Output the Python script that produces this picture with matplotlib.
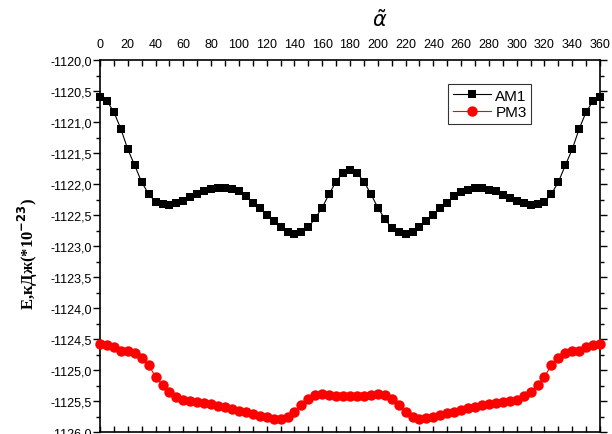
import matplotlib
matplotlib.use("Agg")
import matplotlib.pyplot as plt
from matplotlib.ticker import MultipleLocator, FuncFormatter

# angle, degrees
angles = list(range(0, 361, 5))

am1 = [-1120.60, -1120.66, -1120.84, -1121.11, -1121.44, -1121.70, -1121.97, -1122.16,
       -1122.29, -1122.33, -1122.34, -1122.31, -1122.27, -1122.21, -1122.16, -1122.11,
       -1122.08, -1122.06, -1122.06, -1122.08, -1122.12, -1122.19, -1122.30, -1122.39,
       -1122.50, -1122.60, -1122.70, -1122.77, -1122.80, -1122.77, -1122.70, -1122.55,
       -1122.38, -1122.16, -1121.96, -1121.82, -1121.77, -1121.82, -1121.96, -1122.16,
       -1122.38, -1122.56, -1122.71, -1122.77, -1122.81, -1122.77, -1122.70, -1122.60,
       -1122.50, -1122.39, -1122.30, -1122.20, -1122.13, -1122.09, -1122.07, -1122.07,
       -1122.09, -1122.12, -1122.18, -1122.22, -1122.27, -1122.31, -1122.34, -1122.33,
       -1122.29, -1122.16, -1121.97, -1121.70, -1121.44, -1121.11, -1120.84, -1120.66,
       -1120.60]

pm3 = [-1124.58, -1124.59, -1124.63, -1124.69, -1124.70, -1124.73, -1124.80, -1124.92,
       -1125.11, -1125.24, -1125.36, -1125.43, -1125.48, -1125.50, -1125.52, -1125.53,
       -1125.55, -1125.58, -1125.60, -1125.63, -1125.66, -1125.68, -1125.71, -1125.74,
       -1125.76, -1125.79, -1125.79, -1125.76, -1125.68, -1125.56, -1125.47, -1125.40,
       -1125.38, -1125.40, -1125.42, -1125.42, -1125.42, -1125.42, -1125.42, -1125.40,
       -1125.38, -1125.40, -1125.47, -1125.56, -1125.68, -1125.76, -1125.79, -1125.78,
       -1125.75, -1125.72, -1125.69, -1125.67, -1125.64, -1125.62, -1125.59, -1125.56,
       -1125.55, -1125.53, -1125.52, -1125.50, -1125.48, -1125.42, -1125.36, -1125.24,
       -1125.11, -1124.92, -1124.80, -1124.73, -1124.70, -1124.69, -1124.63, -1124.59,
       -1124.58]

plt.rcParams['font.family'] = ['Liberation Sans', 'DejaVu Sans']

fig = plt.figure(figsize=(6.12, 4.35), dpi=100)
ax = fig.add_axes([100/612, 2/435, 500/612, 372/435])

ax.plot(angles, am1, color='black', lw=0.8, marker='s', markersize=6,
        markeredgewidth=0, label='AM1', clip_on=False, zorder=3)
ax.plot(angles, pm3, color='red', lw=0.8, marker='o', markersize=7.5,
        markeredgewidth=0, label='PM3', clip_on=False, zorder=3)

ax.set_xlim(0, 360)
ax.set_ylim(-1126.0, -1120.0)

ax.xaxis.tick_top()
ax.xaxis.set_major_locator(MultipleLocator(20))
ax.xaxis.set_minor_locator(MultipleLocator(10))
ax.yaxis.set_major_locator(MultipleLocator(0.5))
ax.yaxis.set_minor_locator(MultipleLocator(0.25))
ax.yaxis.set_major_formatter(FuncFormatter(lambda v, p: f"{v:.1f}".replace('.', ',')))

ax.tick_params(axis='x', which='both', direction='in', top=True, bottom=True,
               labeltop=True, labelbottom=False, labelsize=9, pad=7, width=1)
ax.tick_params(axis='x', which='major', length=4)
ax.tick_params(axis='x', which='minor', length=4)
ax.tick_params(axis='y', which='both', direction='out', left=True, right=True,
               labelsize=9, pad=1, width=1)
ax.tick_params(axis='y', which='major', length=5)
ax.tick_params(axis='y', which='minor', length=3)

for s in ax.spines.values():
    s.set_linewidth(1.2)

leg = ax.legend(loc='upper left', bbox_to_anchor=(0.696, 0.935), borderaxespad=0,
                fontsize=11, frameon=True, fancybox=False, handlelength=2.5,
                labelspacing=0.15, borderpad=0.3, handletextpad=0.3)
leg.get_frame().set_edgecolor('black')
leg.get_frame().set_linewidth(0.8)

fig.text(380/612, 1 - 20/435, r'$\tilde{\alpha}$', fontsize=15, ha='center', va='center')
fig.text(28/612, 1 - 254/435, r'E,кДж(*10$^{\mathbf{-23}}$)', rotation=90,
         fontsize=12, fontweight='bold', family=['Liberation Serif', 'DejaVu Serif'],
         ha='center', va='center')

fig.savefig('out.png', dpi=100)
